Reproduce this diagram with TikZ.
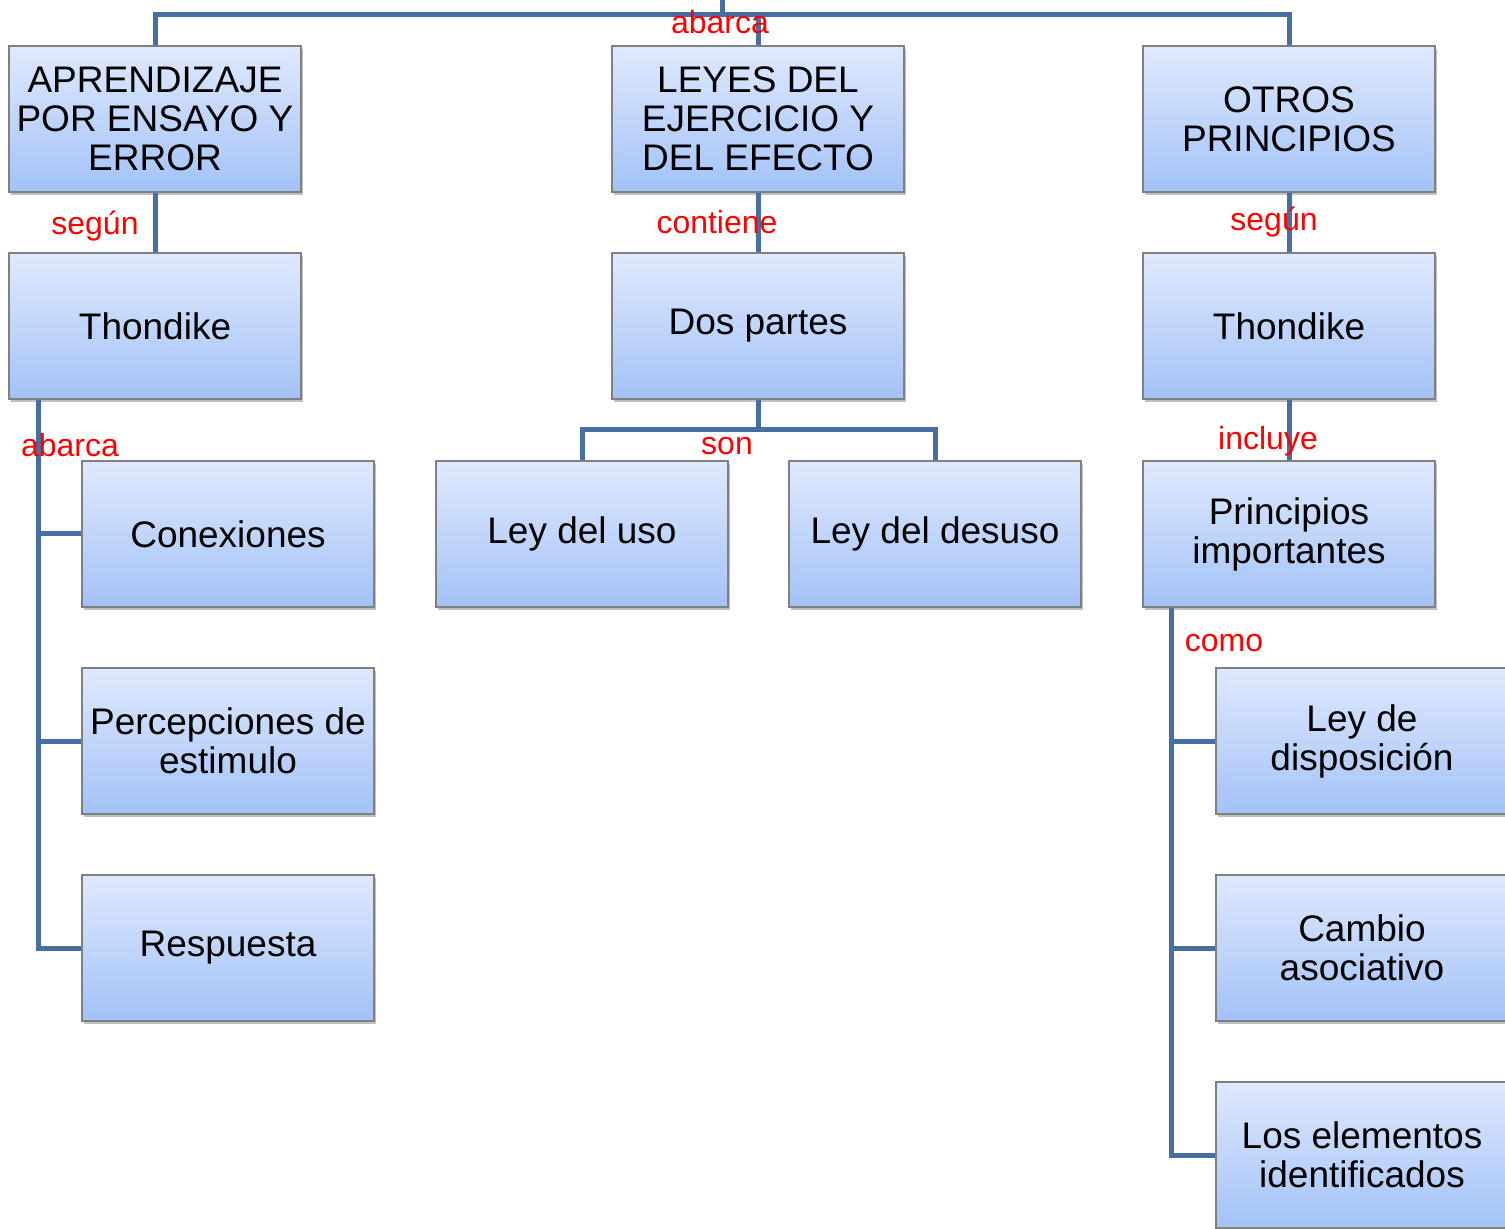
\documentclass[tikz,border=0pt]{standalone}
\usepackage{fontspec}
\setmainfont{Liberation Sans}
\usetikzlibrary{shadows,calc}
\definecolor{boxtop}{RGB}{223,233,253}
\definecolor{boxbot}{RGB}{163,194,248}
\definecolor{boxline}{RGB}{128,128,128}
\definecolor{conn}{RGB}{70,110,162}
\definecolor{lab}{RGB}{255,0,0}
\tikzset{
  box/.style={rectangle, draw=boxline, line width=0.6pt, top color=boxtop, bottom color=boxbot,
    minimum width=146pt, minimum height=73pt, inner sep=2pt, align=center,
    font=\fontsize{18.5}{19.5}\selectfont,
    drop shadow={shadow xshift=1.2pt, shadow yshift=-1.5pt, opacity=0.35, fill=black!70}},
  link/.style={draw=conn, line width=2.5pt},
  lbl/.style={text=lab, font=\fontsize{16}{18}\selectfont, inner sep=0pt}
}
\begin{document}
\begin{tikzpicture}[x=0.5pt,y=-0.5pt]
\useasboundingbox (0,0) rectangle (1505,1229);
\clip (0,0) rectangle (1505,1229);
\fill[white] (0,0) rectangle (1505,1229);
\coordinate (root) at (722,-5);
\coordinate (bar) at (722,15);
\coordinate (lv) at (38,400);
\coordinate (rv) at (1171,608);
\coordinate (sonbar) at (758,430);
% boxes
\node[box] (apr) at (155,119) {APRENDIZAJE\\POR ENSAYO Y\\ERROR};
\node[box] (ley) at (758,119) {LEYES DEL\\EJERCICIO Y\\DEL EFECTO};
\node[box] (otr) at (1289,119) {OTROS\\PRINCIPIOS};
\node[box] (th1) at (155,326) {Thondike};
\node[box] (dos) at (758,326) {Dos partes};
\node[box] (th2) at (1289,326) {Thondike};
\node[box] (con) at (228,534) {Conexiones};
\node[box] (uso) at (582,534) {Ley del uso};
\node[box] (des) at (935,534) {Ley del desuso};
\node[box] (pri) at (1289,534) {Principios\\importantes};
\node[box] (per) at (228,741) {Percepciones de\\estimulo};
\node[box] (dis) at (1362,741) {Ley de\\disposición};
\node[box] (res) at (228,948) {Respuesta};
\node[box] (cam) at (1362,948) {Cambio\\asociativo};
\node[box] (ele) at (1362,1155) {Los elementos\\identificados};
% connectors
\path[link] (root) -- (bar);
\path[link] (apr.north) |- (bar) -| (otr.north);
\path[link] (ley.north) -- (ley.north |- bar);
\path[link] (apr.south) -- (th1.north);
\path[link] (ley.south) -- (dos.north);
\path[link] (otr.south) -- (th2.north);
\path[link] (th2.south) -- (pri.north);
\path[link] (dos.south) -- (sonbar);
\path[link] (uso.north) |- (sonbar) -| (des.north);
\path[link] (lv) |- (res.west);
\path[link] (lv |- con.west) -- (con.west);
\path[link] (lv |- per.west) -- (per.west);
\path[link] (rv) |- (ele.west);
\path[link] (rv |- dis.west) -- (dis.west);
\path[link] (rv |- cam.west) -- (cam.west);
% labels
\node[lbl] (l1) at (720,22) {abarca};
\node[lbl] (l2) at (95,226) {según};
\node[lbl] (l3) at (717,222) {contiene};
\node[lbl] (l4) at (1274,222) {según};
\node[lbl] (l5) at (70,445) {abarca};
\node[lbl] (l6) at (727,446) {son};
\node[lbl] (l7) at (1268,441) {incluye};
\node[lbl] (l8) at (1224,643) {como};
\end{tikzpicture}
\end{document}
